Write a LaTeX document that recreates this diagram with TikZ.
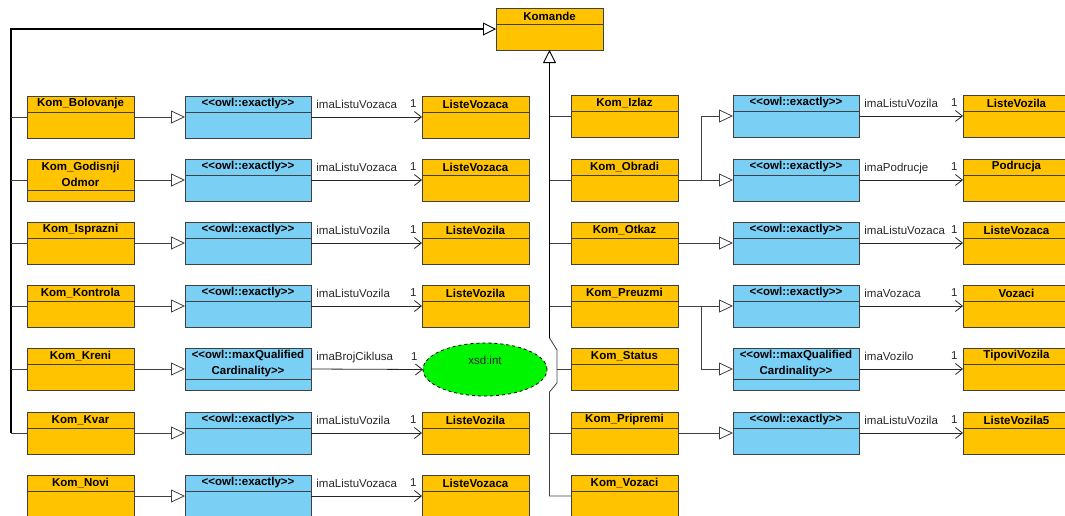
\documentclass[tikz,border=0pt]{standalone}
\usepackage{fontspec}
\newfontfamily\umlfont{Liberation Sans}
\usetikzlibrary{arrows.meta,shapes.geometric,calc}
\definecolor{umlOrange}{RGB}{255,195,0}
\definecolor{umlBlue}{RGB}{122,207,245}
\definecolor{umlBorder}{RGB}{64,64,64}
\definecolor{umlGreen}{RGB}{0,245,0}

% class box: name, style, x, top y, title, height of title band
\newcommand{\klasa}[6]{%
  \node[#2, anchor=north] (#1) at (#3,#4) {};
  \path (#1.north) ++(0,#6/2) node[naslov] (#1t) {#5};
  \draw[crta] ($(#1.north west)+(0,#6)$) -- ($(#1.north east)+(0,#6)$);
}

\begin{document}
\begin{tikzpicture}[
  x=1pt,y=-1pt,
  okvir/.style={draw=umlBorder, line width=.9pt, outer sep=0pt, inner sep=0pt, minimum height=42},
  narKls/.style={okvir, fill=umlOrange, minimum width=107},
  plavKls/.style={okvir, fill=umlBlue, minimum width=126},
  naslov/.style={font=\umlfont\bfseries\fontsize{11.5}{15.5}\selectfont, align=center, inner sep=0pt},
  crta/.style={draw=umlBorder, line width=.9pt},
  lbl/.style={font=\umlfont\fontsize{11.5}{14}\selectfont, inner sep=0pt, text=black!85},
  gen/.style={draw=black!75, line width=.8pt, -{Triangle[open,length=14pt,width=13pt]}},
  asoc/.style={draw=black!85, line width=.8pt, -{Straight Barb[length=7pt,width=11pt]}},
  deblo/.style={draw=black, line width=1.8pt},
  grana/.style={draw=black!75, line width=.8pt}
]
\clip (0,0) rectangle (1065,515);

\klasa{kom}{narKls}{549.5}{8}{Komande}{16}

% left column
\klasa{bol}{narKls}{80.5}{96}{Kom\_Bolovanje}{16}
\klasa{god}{narKls}{80.5}{159}{Kom\_Godisnji\\Odmor}{31}
\klasa{isp}{narKls}{80.5}{222}{Kom\_Isprazni}{16}
\klasa{kon}{narKls}{80.5}{285}{Kom\_Kontrola}{16}
\klasa{kre}{narKls}{80.5}{348}{Kom\_Kreni}{16}
\klasa{kvar}{narKls}{80.5}{412}{Kom\_Kvar}{16}
\klasa{nov}{narKls}{80.5}{475}{Kom\_Novi}{16}

\klasa{bBol}{plavKls}{248}{96}{<<owl::exactly>>}{16}
\klasa{bGod}{plavKls}{248}{159}{<<owl::exactly>>}{16}
\klasa{bIsp}{plavKls}{248}{222}{<<owl::exactly>>}{16}
\klasa{bKon}{plavKls}{248}{285}{<<owl::exactly>>}{16}
\klasa{bKre}{plavKls}{248}{348}{<<owl::maxQualified\\Cardinality>>}{31}
\klasa{bKvar}{plavKls}{248}{412}{<<owl::exactly>>}{16}
\klasa{bNov}{plavKls}{248}{475}{<<owl::exactly>>}{16}

\klasa{lBol}{narKls}{475.5}{96}{ListeVozaca}{16}
\klasa{lGod}{narKls}{475.5}{159}{ListeVozaca}{16}
\klasa{lIsp}{narKls}{475.5}{222}{ListeVozila}{16}
\klasa{lKon}{narKls}{475.5}{285}{ListeVozila}{16}
\node[ellipse, draw=black, dashed, line width=.8pt, fill=umlGreen, minimum width=124, minimum height=53, outer sep=0pt] (xsd) at (485,369.5) {};
\node[lbl] (xsdT) at (485,360) {xsd:int};
\klasa{lKvar}{narKls}{475.5}{412}{ListeVozila}{16}
\klasa{lNov}{narKls}{475.5}{475}{ListeVozaca}{16}

% right column
\klasa{izl}{narKls}{624.5}{95}{Kom\_Izlaz}{16}
\klasa{obr}{narKls}{624.5}{159}{Kom\_Obradi}{16}
\klasa{otk}{narKls}{624.5}{222}{Kom\_Otkaz}{16}
\klasa{pre}{narKls}{624.5}{285}{Kom\_Preuzmi}{16}
\klasa{sta}{narKls}{624.5}{348}{Kom\_Status}{16}
\klasa{pri}{narKls}{624.5}{412}{Kom\_Pripremi}{16}
\klasa{voz}{narKls}{624.5}{475}{Kom\_Vozaci}{16}

\klasa{bObrA}{plavKls}{796}{95}{<<owl::exactly>>}{16}
\klasa{bObrB}{plavKls}{796}{159}{<<owl::exactly>>}{16}
\klasa{bOtk}{plavKls}{796}{222}{<<owl::exactly>>}{16}
\klasa{bPreA}{plavKls}{796}{285}{<<owl::exactly>>}{16}
\klasa{bPreB}{plavKls}{796}{348}{<<owl::maxQualified\\Cardinality>>}{31}
\klasa{bPri}{plavKls}{796}{412}{<<owl::exactly>>}{16}

\klasa{tObrA}{narKls}{1016.5}{95}{ListeVozila}{16}
\klasa{tObrB}{narKls}{1016.5}{159}{Podrucja}{16}
\klasa{tOtk}{narKls}{1016.5}{222}{ListeVozaca}{16}
\klasa{tPreA}{narKls}{1016.5}{285}{Vozaci}{16}
\klasa{tPreB}{narKls}{1016.5}{348}{TipoviVozila}{16}
\klasa{tPri}{narKls}{1016.5}{412}{ListeVozila5}{16}

% generalization trunks
\coordinate (lt) at (11,29);
\draw[deblo, -{Triangle[open,length=13pt,width=13pt,line width=.9pt]}] (kvar.west -| lt) -- (lt) -- (kom.west);
\foreach \k in {bol,god,isp,kon,kre,kvar}
  \draw[grana] (\k.west) -- (\k.west -| lt);

\coordinate (rA) at (549.5,338);
\coordinate (rB) at (557,350);
\coordinate (rC) at (557,383);
\coordinate (rD) at (549.5,392);
\draw[deblo, {Triangle[open,length=13pt,width=13pt,line width=.9pt]}-] (kom.south) -- (rA);
\draw[grana] (rA) -- (rB) -- (rC) -- (rD) -- (rD |- voz.west) -- (voz.west);
\foreach \k in {izl,obr,otk,pre}
  \draw[grana] (\k.west -| rA) -- (\k.west);
\draw[grana] (sta.west -| rB) -- (sta.west);
\draw[grana] (pri.west -| rD) -- (pri.west);

% restrictions
\foreach \k/\b in {bol/bBol,god/bGod,isp/bIsp,kon/bKon,kre/bKre,kvar/bKvar,nov/bNov,otk/bOtk,pri/bPri}
  \draw[gen] (\k.east) -- (\b.west);
\coordinate (obrK) at ([xshift=23pt]obr.east);
\coordinate (preK) at ([xshift=23pt]pre.east);
\draw[gen] (obr.east) -- (bObrB.west);
\draw[gen] (obr.east) -- (obrK) |- (bObrA.west);
\draw[gen] (pre.east) -- (bPreA.west);
\draw[gen] (pre.east) -- (preK) |- (bPreB.west);

% properties
\foreach \a/\b/\t in {bBol/lBol/imaListuVozaca, bGod/lGod/imaListuVozaca, bIsp/lIsp/imaListuVozila,
    bKon/lKon/imaListuVozila, bKre/xsd/imaBrojCiklusa, bKvar/lKvar/imaListuVozila, bNov/lNov/imaListuVozaca,
    bObrA/tObrA/imaListuVozila, bObrB/tObrB/imaPodrucje, bOtk/tOtk/imaListuVozaca,
    bPreA/tPreA/imaVozaca, bPreB/tPreB/imaVozilo, bPri/tPri/imaListuVozila}
  \draw[asoc] (\a.east) -- node[lbl, pos=0, anchor=base west, xshift=5pt, yshift=8.5pt] (\a-l) {\t}
    node[lbl, pos=1, anchor=base east, xshift=-5pt, yshift=9.5pt] (\a-m) {1} (\b.west);
\end{tikzpicture}
\end{document}
